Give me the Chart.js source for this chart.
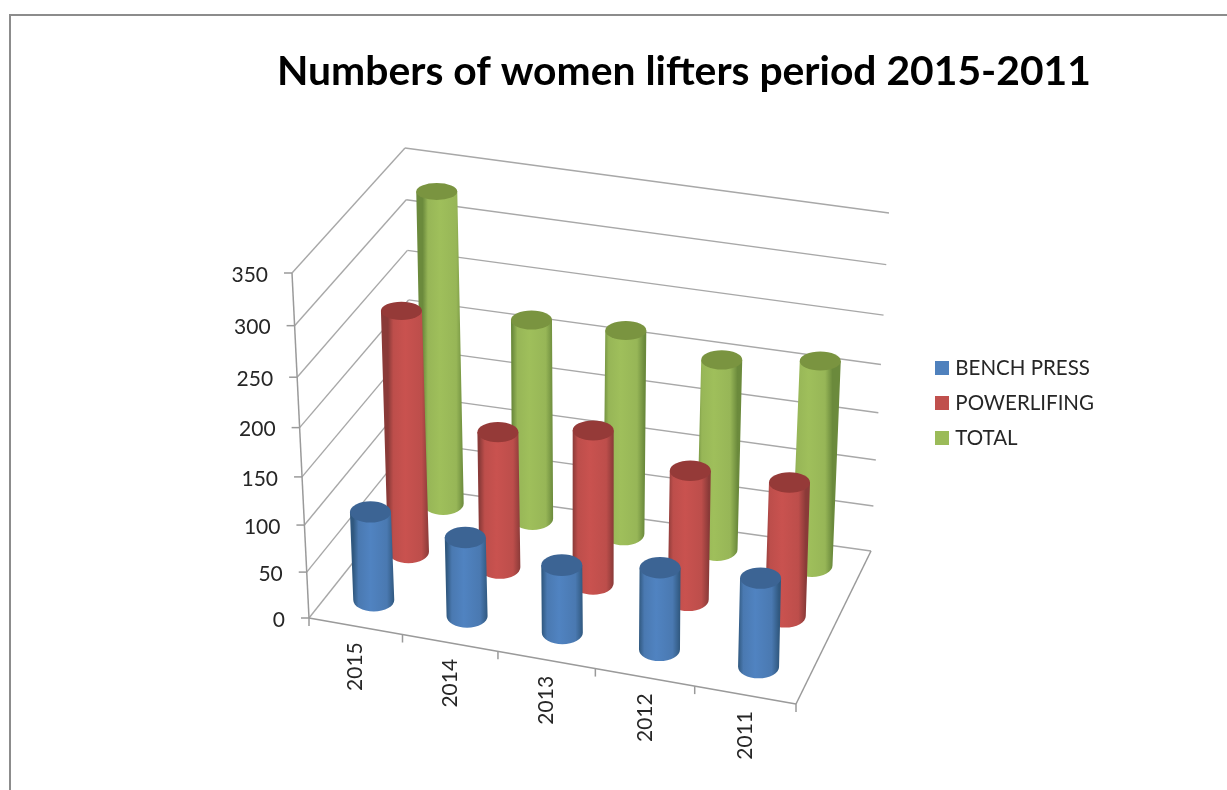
<!DOCTYPE html>
<html>
<head>
<meta charset="utf-8">
<style>html,body{margin:0;padding:0;background:#fff}canvas{display:block;filter:blur(0.5px)}</style>
<script src="https://cdn.jsdelivr.net/npm/chart.js@4/dist/chart.umd.min.js"></script>
</head>
<body>
<canvas id="c" width="1227" height="790"></canvas>
<script>
const categories = ['2015','2014','2013','2012','2011'];
const benchPress = [95,85,73,88,95];
const powerlifting = [252,145,163,138,143];
const total = [323,211,216,202,217];
const titleText = 'Numbers of women lifters period 2015-2011';
const valueMax = 350, valueStep = 50;

// Colours of the cylinders: edge, body centre, top cap
const shades = [
  {edge:'#30587f', mid:'#4a79b1', centre:'#5083c1', cap:'#3c6494'},
  {edge:'#8a3a38', mid:'#bd4e4b', centre:'#c9524f', cap:'#953a38'},
  {edge:'#6b8a3c', mid:'#97b657', centre:'#9fbf5b', cap:'#7a9440'}
];

// The picture's oblique view: where the plot box's corners land on the page
const wallFloor = {fl:[309,618], fr:[796,704], bl:[413,487], br:[871,551]};
const wallTop   = {fl:[292,273], fr:[805,355], bl:[405,148], br:[889,213]};
const barFloor  = {fl:[310,616], fr:[796,701], bl:[417,472], br:[873,548]};
const depths = [1/6, 1/2, 5/6];
const radius = 20.5;

const warpU = u => u - 0.05*u*(1-u);
const warpW = w => w - 0.08*w*(1-w);
const mix = (a,b,t) => [a[0]+(b[0]-a[0])*t, a[1]+(b[1]-a[1])*t];
const quad = (q,u,v) => mix(mix(q.fl,q.fr,u), mix(q.bl,q.br,u), v);
function wallPoint(u,v,w){
  const U = warpU(u);
  return mix(quad(wallFloor,U,v), quad(wallTop,U,v), warpW(w));
}
function barPoint(u,v,w){
  const U = warpU(u), g = quad(barFloor,U,v);
  const a = quad(wallFloor,U,v), b = quad(wallTop,U,v), W = warpW(w);
  return [g[0]+(b[0]-a[0])*W, g[1]+(b[1]-a[1])*W];
}

class CylinderController extends Chart.BarController {
  draw(){
    const ctx = this.chart.ctx, area = this.chart.chartArea;
    const s = shades[this.index], v = depths[this.index];
    this._cachedMeta.data.forEach(el => {
      const p = el.getProps(['x','y','base'], true);
      const u = (p.x-area.left)/(area.right-area.left);
      const w = (p.base-p.y)/(area.bottom-area.top);
      const b = barPoint(u,v,0), t = barPoint(u,v,w);
      const ryB = 11.5, ryT = 11.5-3.3*warpW(w);
      const g = ctx.createLinearGradient(b[0]-radius,0,b[0]+radius,0);
      g.addColorStop(0,s.edge); g.addColorStop(0.13,s.mid); g.addColorStop(0.42,s.centre);
      g.addColorStop(0.82,s.mid); g.addColorStop(1,s.edge);
      ctx.save();
      ctx.fillStyle = g;
      ctx.beginPath();
      ctx.moveTo(t[0]-radius,t[1]);
      ctx.lineTo(b[0]-radius,b[1]);
      ctx.ellipse(b[0],b[1],radius,ryB,0,Math.PI,0,true);
      ctx.lineTo(t[0]+radius,t[1]);
      ctx.closePath();
      ctx.fill();
      ctx.fillStyle = s.cap;
      ctx.beginPath();
      ctx.ellipse(t[0],t[1],radius,ryT,0,0,Math.PI*2);
      ctx.fill();
      ctx.restore();
    });
  }
}
CylinderController.id = 'cylinder';
CylinderController.defaults = Chart.BarController.defaults;
CylinderController.overrides = Chart.BarController.overrides;
Chart.register(CylinderController);

const gridColor = '#a8a8a8', axisColor = '#9a9a9a', textColor = '#262626';
const labelFont = '400 21px Lato';

function line(ctx,a,b,color,width){
  ctx.strokeStyle = color; ctx.lineWidth = width;
  ctx.beginPath(); ctx.moveTo(a[0],a[1]); ctx.lineTo(b[0],b[1]); ctx.stroke();
}

const obliqueAxes = {
  id:'obliqueAxes',
  beforeDraw(chart){
    const ctx = chart.ctx;
    ctx.save();
    ctx.fillStyle = '#fff'; ctx.fillRect(0,0,chart.width,chart.height);
    ctx.strokeStyle = '#8c8c8c'; ctx.lineWidth = 2;
    ctx.beginPath(); ctx.moveTo(10,chart.height); ctx.lineTo(10,15); ctx.lineTo(chart.width,15); ctx.stroke();
    ctx.restore();
  },
  beforeDatasetsDraw(chart){
    const ctx = chart.ctx, xs = chart.scales.x, ys = chart.scales.y;
    const span = xs.right-xs.left, h = ys.bottom-ys.top;
    ctx.save();
    ctx.lineCap = 'butt';
    ys.ticks.forEach(t => {
      const w = (ys.bottom-ys.getPixelForValue(t.value))/h;
      const f = wallPoint(0,0,w), bl = wallPoint(0,1,w), br = wallPoint(1,1,w);
      line(ctx,f,bl,gridColor,1.4);
      line(ctx,bl,br,gridColor,1.4);
      line(ctx,[f[0]-8,f[1]],f,axisColor,1.5);
      ctx.fillStyle = textColor; ctx.font = labelFont;
      ctx.textAlign = 'right'; ctx.textBaseline = 'middle';
      ctx.fillText(t.label,f[0]-24,f[1]+2);
    });
    line(ctx,wallPoint(0,0,0),wallPoint(0,0,1),axisColor,1.5);
    line(ctx,wallPoint(0,0,0),wallPoint(1,0,0),axisColor,1.5);
    line(ctx,wallPoint(1,0,0),wallPoint(1,1,0),axisColor,1.5);
    for(let k=0;k<=categories.length;k++){
      const u = (xs.getPixelForValue(k-0.5)-xs.left)/span;
      const p = wallPoint(u,0,0);
      line(ctx,p,[p[0],p[1]+8],axisColor,1.5);
    }
    xs.ticks.forEach((t,i) => {
      const u = (xs.getPixelForTick(i)-xs.left)/span;
      const p = wallPoint(u,0,0);
      ctx.save();
      ctx.translate(p[0],p[1]+16);
      ctx.rotate(-Math.PI/2);
      ctx.fillStyle = textColor; ctx.font = labelFont;
      ctx.textAlign = 'right'; ctx.textBaseline = 'middle';
      ctx.fillText(t.label,0,0);
      ctx.restore();
    });
    ctx.restore();
  }
};

const series = [
  ['BENCH PRESS',benchPress,'#4f81bd'],
  ['POWERLIFING',powerlifting,'#c0504d'],
  ['TOTAL',total,'#9bbb59']
];

function swatch(color){
  const c = document.createElement('canvas');
  c.width = 14; c.height = 14;
  const g = c.getContext('2d');
  g.fillStyle = color; g.fillRect(0,0,14,14);
  return c;
}

new Chart(document.getElementById('c'),{
  type:'cylinder',
  data:{labels:categories,datasets:series.map(s=>({label:s[0],data:s[1],backgroundColor:s[2],clip:false,grouped:false}))},
  plugins:[obliqueAxes],
  options:{
    responsive:false,animation:false,
    events:[],
    layout:{padding:{left:264,right:123,top:0,bottom:80}},
    scales:{
      x:{display:false,ticks:{autoSkip:false}},
      y:{display:false,min:0,max:valueMax,ticks:{stepSize:valueStep,autoSkip:false}}
    },
    plugins:{
      tooltip:{enabled:false},
      title:{display:true,text:titleText,color:'#000',
        font:{family:'Lato',size:40.8,weight:'700'},padding:{top:47,bottom:0}},
      legend:{display:true,position:'right',fullSize:false,
        labels:{color:textColor,font:{family:'Lato',size:20.5},boxWidth:14,boxHeight:14,padding:14.5,
          usePointStyle:true,pointStyleWidth:6,
          generateLabels(chart){
            return Chart.defaults.plugins.legend.labels.generateLabels(chart).map((item,i)=>{
              item.pointStyle = swatch(series[i][2]);
              return item;
            });
          }}}
    }
  }
});
</script>
</body>
</html>
